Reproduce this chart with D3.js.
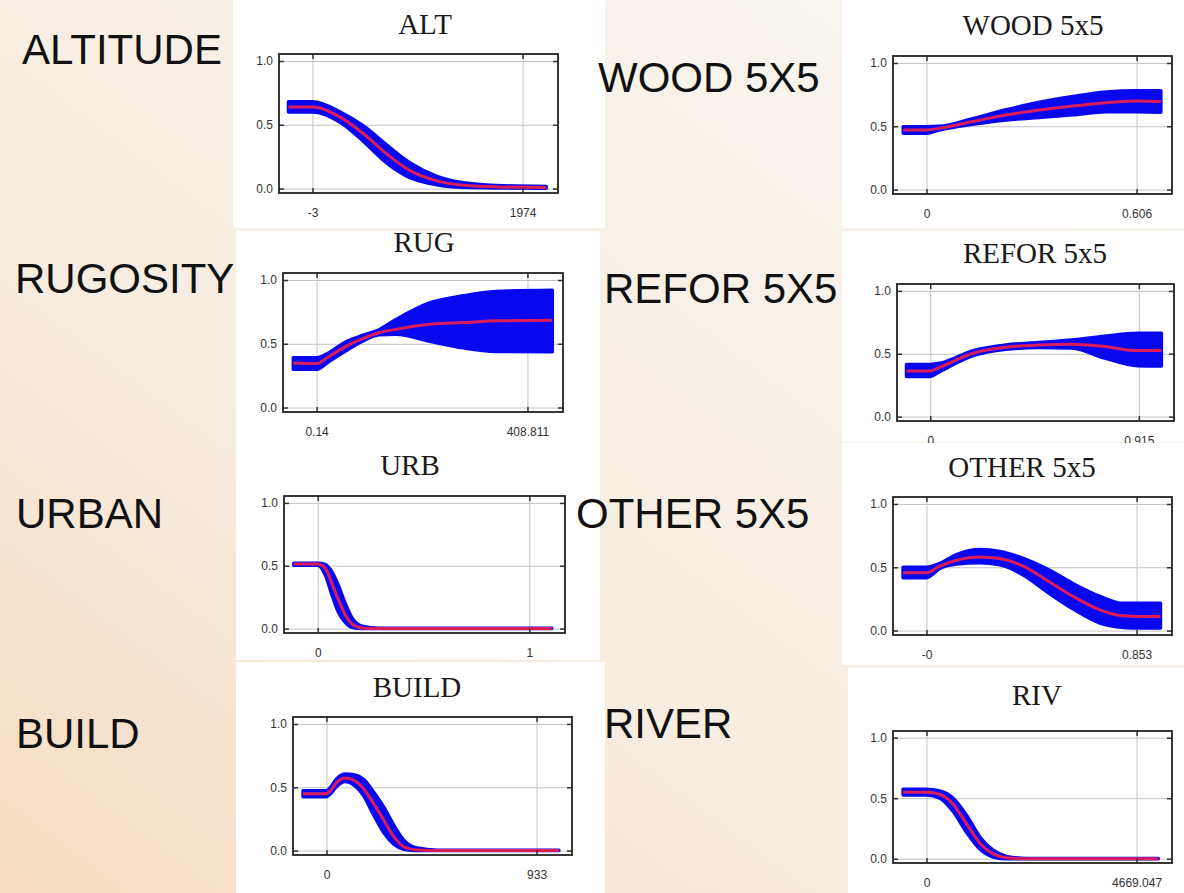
<!DOCTYPE html>
<html>
<head>
<meta charset="utf-8">
<script src="https://cdn.jsdelivr.net/npm/d3@7"></script>
<style>
  body { margin: 0; padding: 0; overflow: hidden; }
  svg { display: block; }
</style>
</head>
<body>
<div id="chart"></div>
<script>
// response curves, values (x in variable units, y = probability)
var altX    = [-229, -3, 258, 477, 697, 916, 1168, 1419, 1732, 2197]
var altMean = [0.64, 0.64, 0.56, 0.43, 0.27, 0.14, 0.06, 0.026, 0.013, 0.008]
var altLo   = [0.60, 0.60, 0.52, 0.37, 0.20, 0.085, 0.03, 0.01, 0.005, 0.003]
var altHi   = [0.68, 0.68, 0.60, 0.49, 0.34, 0.20, 0.095, 0.045, 0.024, 0.016]

var rugX    = [-45, 0.14, 24, 57, 89, 121, 154, 219, 284, 348, 457]
var rugMean = [0.35, 0.345, 0.40, 0.48, 0.54, 0.587, 0.613, 0.653, 0.666, 0.68, 0.684]
var rugLo   = [0.30, 0.30, 0.36, 0.445, 0.52, 0.57, 0.575, 0.52, 0.468, 0.44, 0.437]
var rugHi   = [0.39, 0.39, 0.43, 0.515, 0.565, 0.61, 0.69, 0.82, 0.876, 0.91, 0.92]

var urbX    = [-0.113, 0, 0.035, 0.067, 0.098, 0.13, 0.162, 0.21, 0.289, 1.106]
var urbMean = [0.513, 0.513, 0.48, 0.36, 0.23, 0.11, 0.037, 0.005, 0.0, 0.0]
var urbLo   = [0.505, 0.505, 0.43, 0.27, 0.13, 0.05, 0.01, 0.0, 0.0, 0.0]
var urbHi   = [0.52, 0.52, 0.51, 0.45, 0.34, 0.20, 0.085, 0.02, 0.003, 0.002]

var buildX    = [-104, 0, 18, 47, 84, 121, 166, 210, 255, 299, 344, 403, 492, 1032]
var buildMean = [0.448, 0.448, 0.474, 0.54, 0.573, 0.557, 0.487, 0.37, 0.24, 0.11, 0.03, 0.005, 0.0, 0.0]
var buildLo   = [0.425, 0.425, 0.45, 0.51, 0.545, 0.52, 0.43, 0.28, 0.14, 0.05, 0.01, 0.0, 0.0, 0.0]
var buildHi   = [0.472, 0.472, 0.50, 0.57, 0.605, 0.60, 0.56, 0.46, 0.34, 0.2, 0.08, 0.02, 0.003, 0.002]

var woodX    = [-0.067, 0, 0.037, 0.133, 0.23, 0.326, 0.423, 0.519, 0.606, 0.676]
var woodMean = [0.471, 0.471, 0.484, 0.537, 0.589, 0.628, 0.66, 0.686, 0.70, 0.696]
var woodLo   = [0.445, 0.445, 0.47, 0.515, 0.55, 0.57, 0.59, 0.615, 0.615, 0.61]
var woodHi   = [0.497, 0.497, 0.50, 0.56, 0.63, 0.69, 0.735, 0.77, 0.78, 0.78]

var reforX    = [-0.104, 0, 0.043, 0.188, 0.332, 0.477, 0.621, 0.766, 0.91, 1.014]
var reforMean = [0.363, 0.363, 0.393, 0.504, 0.552, 0.57, 0.576, 0.557, 0.525, 0.525]
var reforLo   = [0.32, 0.32, 0.36, 0.485, 0.535, 0.55, 0.545, 0.465, 0.405, 0.403]
var reforHi   = [0.415, 0.415, 0.425, 0.525, 0.57, 0.59, 0.61, 0.64, 0.663, 0.663]

var otherX    = [-0.095, 0, 0.054, 0.122, 0.217, 0.298, 0.393, 0.487, 0.596, 0.704, 0.799, 0.867, 0.95]
var otherMean = [0.457, 0.457, 0.509, 0.556, 0.582, 0.569, 0.509, 0.40, 0.269, 0.164, 0.117, 0.112, 0.112]
var otherLo   = [0.418, 0.418, 0.49, 0.525, 0.535, 0.52, 0.44, 0.31, 0.17, 0.06, 0.025, 0.02, 0.02]
var otherHi   = [0.50, 0.50, 0.53, 0.60, 0.64, 0.625, 0.57, 0.49, 0.37, 0.27, 0.215, 0.215, 0.215]

var rivX    = [-519, 0, 296, 593, 889, 1186, 1482, 1779, 2223, 5151]
var rivMean = [0.55, 0.55, 0.531, 0.45, 0.29, 0.129, 0.04, 0.008, 0.0, 0.0]
var rivLo   = [0.527, 0.527, 0.50, 0.39, 0.22, 0.08, 0.015, 0.0, 0.0, 0.0]
var rivHi   = [0.573, 0.573, 0.56, 0.50, 0.36, 0.18, 0.07, 0.02, 0.003, 0.002]

var titles     = ["ALT", "RUG", "URB", "BUILD", "WOOD 5x5", "REFOR 5x5", "OTHER 5x5", "RIV"]
var sideLabels = ["ALTITUDE", "RUGOSITY", "URBAN", "BUILD", "WOOD 5X5", "REFOR 5X5", "OTHER 5X5", "RIVER"]
var xTickVals  = [[-3, 1974], [0.14, 408.811], [0, 1], [0, 933], [0, 0.606], [0, 0.915], [0, 0.853], [0, 4669.047]]
var xTickText  = [["-3", "1974"], ["0.14", "408.811"], ["0", "1"], ["0", "933"], ["0", "0.606"], ["0", "0.915"], ["-0", "0.853"], ["0", "4669.047"]]
var yTickVals  = [0, 0.5, 1.0]

var series = [
  [altX, altMean, altLo, altHi], [rugX, rugMean, rugLo, rugHi],
  [urbX, urbMean, urbLo, urbHi], [buildX, buildMean, buildLo, buildHi],
  [woodX, woodMean, woodLo, woodHi], [reforX, reforMean, reforLo, reforHi],
  [otherX, otherMean, otherLo, otherHi], [rivX, rivMean, rivLo, rivHi]
]

// layout: white backing, plot frame, title anchor, side label anchor
var layout = [
  {bg: [233, 0, 605, 228],   frame: [279, 54, 558, 193],   title: [425, 34],   label: [22, 64]},
  {bg: [236, 231, 600, 440], frame: [283, 273, 563, 412],  title: [424, 252],  label: [15, 293]},
  {bg: [236, 440, 600, 660], frame: [284, 496, 565, 633],  title: [410, 475],  label: [16, 528]},
  {bg: [236, 662, 605, 893], frame: [293, 717, 572, 855],  title: [417, 697],  label: [16, 748]},
  {bg: [842, 0, 1184, 228],  frame: [893, 56, 1172, 194],  title: [1033, 35],  label: [598, 92]},
  {bg: [842, 231, 1184, 442],frame: [897, 284, 1174, 421], title: [1035, 263], label: [604, 303]},
  {bg: [842, 443, 1184, 665],frame: [893, 497, 1172, 635], title: [1022, 477], label: [576, 528]},
  {bg: [848, 668, 1184, 893],frame: [893, 731, 1172, 863], title: [1037, 705], label: [604, 738]}
]

var W = 1184, H = 893

var svg = d3.select("#chart").append("svg")
  .attr("width", W)
  .attr("height", H)

var defs = svg.append("defs")
var grad = defs.append("linearGradient").attr("id", "bgGrad")
  .attr("x1", "0%").attr("y1", "100%").attr("x2", "100%").attr("y2", "0%")
grad.append("stop").attr("offset", "0%").attr("stop-color", "#f6dcc0")
grad.append("stop").attr("offset", "35%").attr("stop-color", "#f7ece0")
grad.append("stop").attr("offset", "100%").attr("stop-color", "#f9f7f3")

svg.append("rect").attr("width", W).attr("height", H).attr("fill", "url(#bgGrad)")

layout.forEach(function(L, i) {
  var f = L.frame
  var w = f[2] - f[0], h = f[3] - f[1]
  var s = series[i]

  svg.append("rect")
    .attr("x", L.bg[0]).attr("y", L.bg[1])
    .attr("width", L.bg[2] - L.bg[0]).attr("height", L.bg[3] - L.bg[1])
    .attr("fill", "#ffffff")

  svg.append("text")
    .attr("x", L.title[0]).attr("y", L.title[1])
    .attr("text-anchor", "middle")
    .attr("font-family", "Liberation Serif, Times New Roman, serif")
    .attr("font-size", 29)
    .attr("fill", "#1a1a1a")
    .text(titles[i])

  var g = svg.append("g").attr("transform", "translate(" + f[0] + "," + f[1] + ")")

  var x = d3.scaleLinear().domain(xTickVals[i]).range([0.12 * w, 0.873 * w])
  var y = d3.scaleLinear().domain([-0.035, 1.055]).range([h, 0])

  // grid
  g.append("g").attr("class", "grid")
    .call(d3.axisLeft(y).tickValues(yTickVals).tickSize(-w).tickFormat(""))
  g.append("g").attr("class", "grid").attr("transform", "translate(0," + h + ")")
    .call(d3.axisBottom(x).tickValues(xTickVals[i]).tickSize(-h).tickFormat(""))
  g.selectAll(".grid .domain").remove()
  g.selectAll(".grid line").attr("stroke", "#c4c4c4").attr("stroke-width", 1)

  var pts = s[0].map(function(v, k) { return {x: v, m: s[1][k], lo: s[2][k], hi: s[3][k]} })

  var band = d3.area()
    .x(function(d) { return x(d.x) })
    .y0(function(d) { return y(d.lo) })
    .y1(function(d) { return y(d.hi) })
    .curve(d3.curveMonotoneX)

  var line = d3.line()
    .x(function(d) { return x(d.x) })
    .y(function(d) { return y(d.m) })
    .curve(d3.curveMonotoneX)

  g.append("path").datum(pts)
    .attr("d", band)
    .attr("fill", "#0808f0")
    .attr("stroke", "#0808f0")
    .attr("stroke-width", 3.5)
    .attr("stroke-linejoin", "round")

  g.append("path").datum(pts)
    .attr("d", line)
    .attr("fill", "none")
    .attr("stroke", "#dc1c5a")
    .attr("stroke-width", 3)

  // frame + inward ticks
  var yl = g.append("g").call(d3.axisLeft(y).tickValues(yTickVals).tickSize(-5).tickPadding(6).tickFormat(d3.format(".1f")))
  var yr = g.append("g").attr("transform", "translate(" + w + ",0)")
    .call(d3.axisRight(y).tickValues(yTickVals).tickSize(-5).tickFormat(""))
  var xt = g.append("g")
    .call(d3.axisTop(x).tickValues(xTickVals[i]).tickSize(-5).tickFormat(""))
  var xb = g.append("g").attr("transform", "translate(0," + h + ")")
    .call(d3.axisBottom(x).tickValues(xTickVals[i]).tickSize(-5).tickPadding(15)
      .tickFormat(function(d, k) { return xTickText[i][k] }))

  ;[yl, yr, xt, xb].forEach(function(a) {
    a.select(".domain").remove()
    a.selectAll("line").attr("stroke", "#333").attr("stroke-width", 1.5)
    a.selectAll("text")
      .attr("font-family", "Liberation Sans, Arial, sans-serif")
      .attr("font-size", 12)
      .attr("fill", "#333")
  })

  g.append("rect")
    .attr("width", w).attr("height", h)
    .attr("fill", "none")
    .attr("stroke", "#222")
    .attr("stroke-width", 1.8)
})

// big side labels sit on top of the panels
layout.forEach(function(L, i) {
  svg.append("text")
    .attr("x", L.label[0]).attr("y", L.label[1])
    .attr("font-family", "Liberation Sans, Arial, sans-serif")
    .attr("font-size", 42)
    .attr("fill", "#111")
    .text(sideLabels[i])
})
</script>
</body>
</html>
